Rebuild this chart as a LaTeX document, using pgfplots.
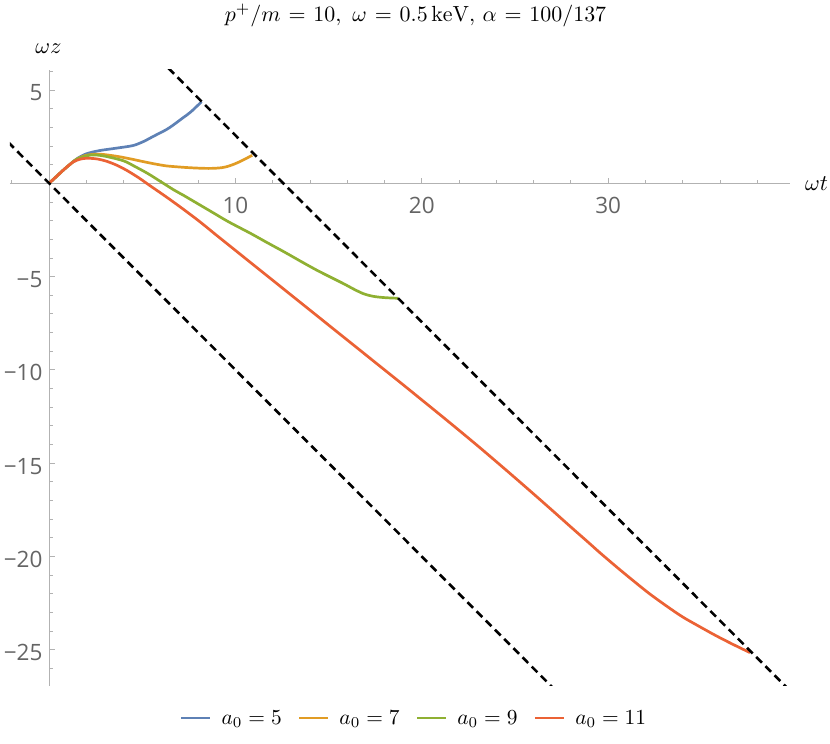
\documentclass[border=0pt]{standalone}
\usepackage{fontspec}
\usepackage{graphicx}
\usepackage{pgfplots}
\pgfplotsset{compat=1.18}
\newfontfamily\tickfont{Open Sans}
\definecolor{c1}{RGB}{94,129,181}
\definecolor{c2}{RGB}{225,156,36}
\definecolor{c3}{RGB}{143,176,50}
\definecolor{c4}{RGB}{235,98,53}
\definecolor{axgray}{RGB}{178,178,178}
\definecolor{lblgray}{RGB}{100,100,100}
\newcommand{\tfont}{\tickfont\fontsize{22.5bp}{26bp}\selectfont}
\newcommand{\Tm}[1]{\scalebox{2.2}{$\thickmuskip=6.5mu #1$}}
\newcommand{\Lm}[1]{\scalebox{2.15}{$#1$}}
\newcommand{\Am}[1]{\scalebox{2.25}{$#1$}}
\begin{document}
\begin{tikzpicture}
\begin{axis}[
  at={(10bp,58bp)}, anchor=south west,
  scale only axis, width=780bp, height=616bp,
  xmin=-2.1, xmax=39.76, ymin=-26.94, ymax=6.07,
  axis lines=middle,
  axis line style={-, draw=axgray, line width=0.9bp},
  xtick={10,20,30}, xticklabels={10,20,30},
  minor xtick={-2,2,4,6,8,12,14,16,18,22,24,26,28,32,34,36,38},
  ytick={-25,-20,-15,-10,-5,5}, yticklabels={−25,−20,−15,−10,−5,5},
  minor ytick={-26,-24,-23,-22,-21,-19,-18,-17,-16,-14,-13,-12,-11,-9,-8,-7,-6,-4,-3,-2,-1,1,2,3,4,6},
  tick align=inside,
  major tick length=5.5bp, minor tick length=3.5bp,
  every tick/.style={draw=axgray, line width=0.8bp},
  xticklabel style={font=\tfont, text=lblgray, inner sep=0pt, anchor=north, yshift=-14bp},
  yticklabel style={font=\tfont, text=lblgray, inner sep=0pt, anchor=east, xshift=-6.5bp, yshift=-3bp},
  title={\Tm{p^+/m=10,\ \omega=0.5\,\mathrm{keV},\,\alpha=100/137}},
  title style={at={(axis description cs:0.5199,1.078)}, anchor=base, inner sep=0pt, yshift=-6pt},
  xlabel={\Am{\omega t}},
  xlabel style={at={(axis description cs:1.049,0.8036)}, anchor=base east, inner sep=0pt, rotate=0},
  ylabel={\Am{\omega z}},
  ylabel style={at={(axis description cs:0.0492,1.026)}, anchor=base, inner sep=0pt, rotate=0},
  legend columns=4,
  legend style={at={(axis description cs:0.5167,-0.052)}, anchor=center, draw=none, fill=none,
    inner sep=0pt, nodes={inner sep=0pt},
    /tikz/every odd column/.append style={column sep=10bp},
    /tikz/every even column/.append style={column sep=16bp}},
  legend image code/.code={\draw[#1] (0bp,0bp) -- (29bp,0bp); \path[draw=none,fill=none] (0bp,-4bp) rectangle (29bp,0bp);},
  clip=true,
]
\addplot[c1, line width=2.7bp, smooth] coordinates {
(0,0) (0.4,0.37) (0.8,0.74) (1.2,1.08) (1.5,1.32) (2.0,1.58) (2.7,1.75) (3.6,1.88)
(4.5,2.02) (5.05,2.23) (5.4,2.41) (5.76,2.6) (6.3,2.88) (6.66,3.12) (7.2,3.52)
(7.6,3.82) (8.18,4.37)};
\addlegendentry{\Lm{a_0=5}}
\addplot[c2, line width=2.7bp, smooth] coordinates {
(0,0) (0.4,0.37) (0.8,0.74) (1.2,1.08) (1.5,1.3) (2.0,1.5) (2.7,1.56) (3.6,1.45)
(4.3,1.32) (5.05,1.16) (5.7,1.03) (6.3,0.93) (7.0,0.87) (7.6,0.83) (8.3,0.8)
(8.8,0.8) (9.3,0.84) (9.7,0.94) (10.24,1.16) (10.9,1.5)};
\addlegendentry{\Lm{a_0=7}}
\addplot[c3, line width=2.7bp, smooth] coordinates {
(0,0) (0.4,0.37) (0.8,0.74) (1.2,1.08) (1.5,1.3) (2.0,1.47) (2.4,1.52) (3.0,1.45)
(4.0,1.2) (4.6,0.9) (5.3,0.52) (6.0,0.08) (6.7,-0.36) (7.2,-0.64) (7.9,-1.05)
(8.7,-1.52) (9.6,-2.05) (10.8,-2.68) (11.7,-3.18) (12.6,-3.67) (13.5,-4.18)
(14.35,-4.65) (15.1,-5.03) (15.8,-5.38) (16.4,-5.7) (16.9,-5.93) (17.4,-6.06)
(17.9,-6.12) (18.4,-6.15) (18.73,-6.16)};
\addlegendentry{\Lm{a_0=9}}
\addplot[c4, line width=2.7bp, smooth] coordinates {
(0,0) (0.4,0.37) (0.8,0.74) (1.29,1.14) (1.7,1.3) (2.09,1.34) (2.6,1.3) (3.08,1.18)
(3.6,0.98) (4.15,0.7) (4.8,0.3) (5.4,-0.12) (6.3,-0.74) (7.2,-1.39) (8.1,-2.07)
(9.0,-2.8) (10,-3.6) (11,-4.4) (12,-5.2) (13,-6.0) (14,-6.8) (15,-7.6) (16,-8.4)
(17,-9.2) (18,-10.0) (19,-10.8) (20,-11.61) (21,-12.42) (22,-13.24) (23,-14.07)
(24,-14.92) (25,-15.78) (26,-16.65) (27,-17.53) (28,-18.42) (29,-19.3) (29.56,-19.8)
(30.5,-20.6) (31.35,-21.3) (32.2,-21.98) (33.14,-22.66) (34.0,-23.24) (34.93,-23.77)
(35.8,-24.25) (36.72,-24.72) (37.61,-25.15)};
\addlegendentry{\Lm{a_0=11}}
\addplot[black, line width=2.6bp, dash pattern=on 8bp off 5bp, forget plot] coordinates {(-2.2,2.2) (27.0,-27.0)};
\addplot[black, line width=2.6bp, dash pattern=on 8bp off 5bp, forget plot] coordinates {(6.4,6.166) (39.6,-27.034)};
\end{axis}
\pgfresetboundingbox
\path (0,0) rectangle (830bp,744bp);
\end{tikzpicture}
\end{document}
